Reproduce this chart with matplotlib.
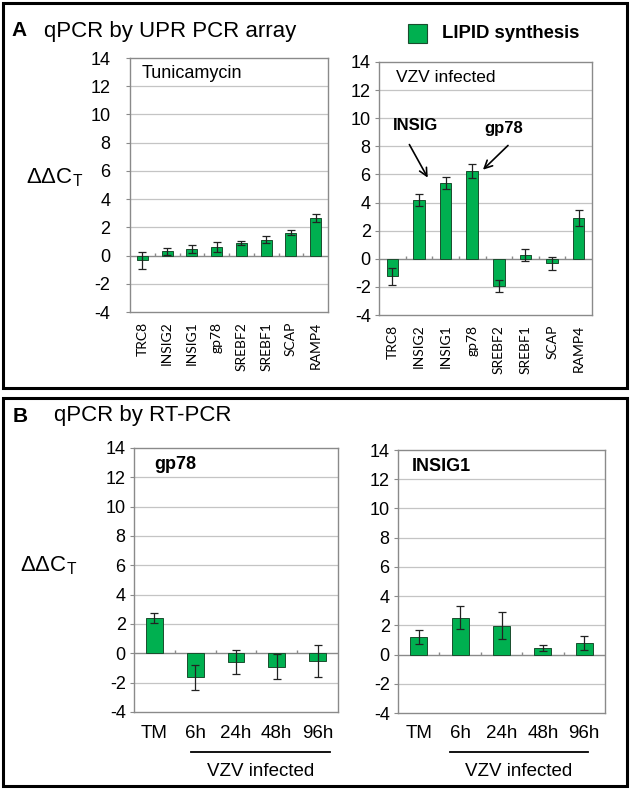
import matplotlib
matplotlib.use("Agg")
import matplotlib.pyplot as plt
import numpy as np
from matplotlib.patches import Rectangle
from matplotlib.lines import Line2D

# ---- data ----
genes = ["TRC8", "INSIG2", "INSIG1", "gp78", "SREBF2", "SREBF1", "SCAP", "RAMP4"]
tunicamycin_vals = [-0.35, 0.3, 0.48, 0.6, 0.9, 1.12, 1.62, 2.67]
tunicamycin_err = [0.6, 0.25, 0.3, 0.35, 0.15, 0.25, 0.17, 0.3]
vzv_vals = [-1.26, 4.19, 5.4, 6.24, -1.93, 0.29, -0.33, 2.9]
vzv_err = [0.6, 0.43, 0.4, 0.5, 0.45, 0.42, 0.45, 0.6]

times = ["TM", "6h", "24h", "48h", "96h"]
gp78_vals = [2.41, -1.64, -0.6, -0.91, -0.5]
gp78_err = [0.35, 0.85, 0.8, 0.85, 1.1]
insig1_vals = [1.2, 2.53, 1.98, 0.46, 0.8]
insig1_err = [0.45, 0.8, 0.9, 0.2, 0.5]

yticks = [-4, -2, 0, 2, 4, 6, 8, 10, 12, 14]

W, H = 630, 789
fig = plt.figure(figsize=(W / 100, H / 100), dpi=100)

GREEN = "#00B050"
EDGE = "#1a4d2e"
GRAY = "#8a8a8a"
SANS = "Liberation Sans"


def axes_px(l, t, r, b):
    return fig.add_axes([l / W, 1 - b / H, (r - l) / W, (b - t) / H])


def setup(ax, n, vals, errs, width, ypad):
    x = np.arange(n)
    ax.set_ylim(-4, 14)
    ax.set_xlim(-0.5, n - 0.5)
    ax.set_yticks(yticks)
    ax.set_yticklabels([str(v) for v in yticks], fontsize=13, family=SANS)
    for v in yticks:
        if v not in (0, 14, -4):
            ax.axhline(v, color="#c4c4c4", lw=0.9, zorder=0)
    ax.axhline(0, color=GRAY, lw=1.0, zorder=1)
    ax.vlines(np.arange(n - 1) + 0.5, 0, 0.2, color=GRAY, lw=1.0, zorder=1)
    ax.bar(x, vals, width=width, color=GREEN, edgecolor=EDGE, lw=0.7, zorder=2)
    ax.errorbar(x, vals, yerr=errs, fmt="none", ecolor="#222222", elinewidth=0.9,
                capsize=3, capthick=0.9, zorder=3)
    for s in ax.spines.values():
        s.set_color(GRAY)
        s.set_linewidth(1.0)
    ax.tick_params(axis="y", length=3, color=GRAY, pad=ypad)
    ax.tick_params(axis="x", length=0)
    return x


# ---- Panel A ----
axA1 = axes_px(130, 58, 328, 312)
x = setup(axA1, len(genes), tunicamycin_vals, tunicamycin_err, 0.45, 11)
axA1.set_xticks(x)
axA1.set_xticklabels(genes, rotation=90, fontsize=10, family="Lato")
axA1.tick_params(axis="x", pad=7)
axA1.text(0.06, 0.94, "Tunicamycin", transform=axA1.transAxes, fontsize=13,
          family=SANS, va="center", ha="left")

axA2 = axes_px(379, 62, 592, 315)
x = setup(axA2, len(genes), vzv_vals, vzv_err, 0.43, 3)
axA2.set_xticks(x)
axA2.set_xticklabels(genes, rotation=90, fontsize=10, family="Lato")
axA2.tick_params(axis="x", pad=7)
axA2.text(0.08, 0.94, "VZV infected", transform=axA2.transAxes, fontsize=12.5,
          family=SANS, va="center", ha="left")
axA2.text(0.03, 9.5, "INSIG", fontsize=12, fontweight="bold", family=SANS,
          va="center", ha="left")
axA2.text(3.45, 9.3, "gp78", fontsize=12, fontweight="bold", family=SANS,
          va="center", ha="left")
axA2.annotate("", xy=(1.38, 5.6), xytext=(0.59, 8.3),
              arrowprops=dict(arrowstyle="->", color="black", lw=1.2,
                              mutation_scale=14))
axA2.annotate("", xy=(3.33, 6.2), xytext=(4.42, 8.2),
              arrowprops=dict(arrowstyle="->", color="black", lw=1.2,
                              mutation_scale=14))

# ---- Panel B ----
axB1 = axes_px(134, 448, 338, 712)
x = setup(axB1, len(times), gp78_vals, gp78_err, 0.41, 3)
axB1.set_xticks(x)
axB1.set_xticklabels(times, fontsize=13.5, family=SANS)
axB1.tick_params(axis="x", pad=9)
axB1.text(-0.01, 12.9, "gp78", fontsize=13, fontweight="bold", family=SANS,
          va="center", ha="left")

axB2 = axes_px(398, 450, 605, 713)
x = setup(axB2, len(times), insig1_vals, insig1_err, 0.41, 3)
axB2.set_xticks(x)
axB2.set_xticklabels(times, fontsize=13.5, family=SANS)
axB2.tick_params(axis="x", pad=9)
axB2.text(-0.16, 12.9, "INSIG1", fontsize=13, fontweight="bold", family=SANS,
          va="center", ha="left")

# ---- figure-level decorations ----
def fx(px):
    return px / W


def fy(py):
    return 1 - py / H


fig.patches.append(Rectangle((fx(3), fy(388)), fx(624), 385 / H, transform=fig.transFigure,
                             fill=False, edgecolor="black", lw=2.2))
fig.patches.append(Rectangle((fx(3), fy(786)), fx(624), 388 / H, transform=fig.transFigure,
                             fill=False, edgecolor="black", lw=2.2))

fig.text(fx(11), fy(31), "A", fontsize=15, fontweight="bold", family=SANS, va="center")
fig.text(fx(44), fy(31), "qPCR by UPR PCR array", fontsize=16, family=SANS, va="center")
fig.text(fx(13), fy(416), "B", fontsize=15, fontweight="bold", family=SANS, va="center")
fig.text(fx(54), fy(416), "qPCR by RT-PCR", fontsize=16, family=SANS, va="center")

fig.patches.append(Rectangle((fx(408), fy(43)), fx(19), 19 / H, transform=fig.transFigure,
                             facecolor=GREEN, edgecolor=EDGE, lw=0.8))
fig.text(fx(442), fy(33), "LIPID synthesis", fontsize=13.3, fontweight="bold",
         family=SANS, va="center")

fig.text(fx(26), fy(178), r"ΔΔC$_\mathregular{T}$", fontsize=16, family=SANS,
         va="center")
fig.text(fx(20), fy(566), r"ΔΔC$_\mathregular{T}$", fontsize=16, family=SANS,
         va="center")

# VZV infected brackets
for (l, r) in ((191, 330), (450, 588)):
    fig.add_artist(Line2D([fx(l), fx(r)], [fy(752), fy(752)], transform=fig.transFigure,
                          color="black", lw=1.3))
    fig.text(fx((l + r) / 2), fy(771), "VZV infected", fontsize=13.5, family=SANS,
             ha="center", va="center")

fig.savefig("out.png", dpi=100)
